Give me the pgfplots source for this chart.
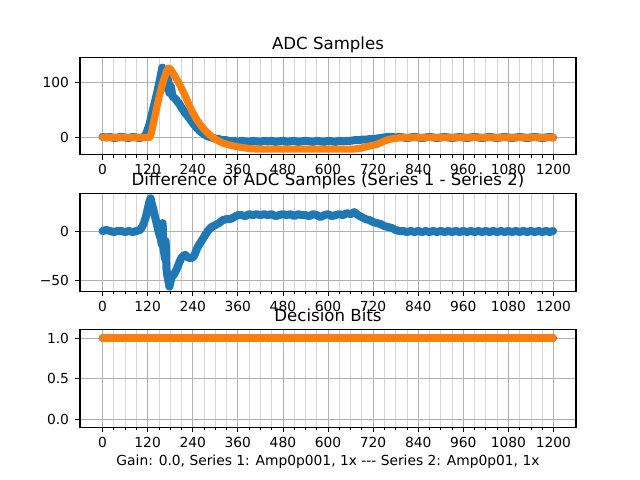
\documentclass[border=0pt]{standalone}
\usepackage{fontspec}
\setmainfont{DejaVu Sans}
\usepackage{pgfplots}
\pgfplotsset{compat=1.18}
\definecolor{c0}{HTML}{1F77B4}
\definecolor{c1}{HTML}{FF7F0E}
\definecolor{gridc}{HTML}{B0B0B0}
\pgfplotsset{
 every axis title shift=0pt,
 mystyle/.style={
  scale only axis, width=372bp, height=72.95bp, anchor=south west,
  xmin=-60, xmax=1260,
  xtick={0,120,240,360,480,600,720,840,960,1080,1200},
  xticklabels={0,120,240,360,480,600,720,840,960,1080,1200},
  minor x tick num=3,
  grid=both,
  major grid style={gridc, line width=0.6bp},
  minor grid style={gridc!55, line width=0.6bp},
  tick align=outside,
  xtick pos=left, ytick pos=left,
  major tick length=3.65bp, minor tick length=2.08bp,
  every tick/.style={black, line width=0.6bp},
  axis line style={line width=0.8bp},
  tick label style={font=\fontsize{10.4}{12}\selectfont},
  xticklabel style={anchor=base, inner sep=0pt, yshift=-11.35bp},
  yticklabel style={anchor=east, inner sep=0pt, xshift=-4.4bp},
  title style={at={(0.5,1)}, anchor=base, yshift=6.25bp, inner sep=0pt, font=\fontsize{12.5}{15}\selectfont},
  clip=false,
 },
 blue/.style={c0, line width=6bp, line join=round, line cap=round, mark=none},
 orange/.style={c1, line width=5.4bp, line join=round, line cap=round, mark=none},
}
\begin{document}
\begin{tikzpicture}
\path[use as bounding box] (0,0) rectangle (480bp,360bp);
% ---------------- top
\begin{axis}[mystyle, at={(60bp,243.8bp)}, ymin=-31.5, ymax=144,
  ytick={0,100}, yticklabels={0,100}, title={ADC Samples}]
\addplot[blue] coordinates {(0,1)(10,0)(20,1)(30,-1)(40,0)(50,1)(60,0)(70,-1)(80,1)(90,0)(100,-1)(110,1)(115,5)(120,14)(125,24)(130,38)(135,52)(140,66)(145,80)(150,96)(155,112)(159,126)(162,118)(164,104)(166,122)(168,96)(170,114)(172,88)(175,104)(178,80)(182,92)(186,74)(190,72)(195,69)(200,64)(205,60)(210,54)(215,49)(220,44)(230,36)(240,26)(250,18)(260,11)(270,6)(280,2)(290,0)(300,-2)(310,-3)(320,-5)(330,-5)(340,-7)(350,-6)(360,-8)(370,-6)(380,-7)(390,-8)(400,-6)(410,-7)(420,-8)(430,-6)(440,-7)(450,-6)(460,-8)(470,-7)(480,-6)(490,-8)(500,-7)(510,-6)(520,-8)(530,-7)(540,-6)(550,-7)(560,-8)(570,-6)(580,-7)(590,-8)(600,-6)(610,-7)(620,-8)(630,-6)(640,-7)(650,-6)(660,-6)(670,-5)(680,-5)(690,-4)(700,-4)(710,-3)(720,-3)(730,-2)(740,-1)(750,0)(760,1)(770,1)(780,0)(790,1)(800,0)(810,-1)(820,0)(830,1)(840,0)(850,-1)(860,0)(870,1)(880,0)(890,-1)(900,0)(910,1)(920,0)(930,-1)(940,0)(950,1)(960,0)(970,-1)(980,0)(990,1)(1000,0)(1010,-1)(1020,0)(1030,1)(1040,0)(1050,-1)(1060,0)(1070,1)(1080,0)(1090,-1)(1100,0)(1110,1)(1120,0)(1130,-1)(1140,0)(1150,1)(1160,0)(1170,-1)(1180,0)(1190,1)(1199,0)};
\addplot[orange] coordinates {(0,0)(60,0)(125,0)(130,8)(140,40)(150,72)(160,98)(170,119)(175,125)(180,124)(190,114)(200,102)(210,89)(220,75)(230,59)(240,45)(250,33)(260,23)(270,15)(280,8)(290,2)(300,-3)(310,-7)(320,-10)(330,-12)(340,-14)(350,-15.5)(360,-17)(370,-18)(380,-19)(390,-20)(400,-20.5)(420,-21)(500,-21)(600,-21)(670,-21)(680,-20)(690,-19)(700,-17)(710,-15.5)(720,-14)(730,-12.5)(740,-9.5)(750,-6.5)(760,-4)(770,-2.5)(780,-1.5)(790,-0.5)(800,0)(900,0)(1000,0)(1100,0)(1199,0)};
\end{axis}
% ---------------- middle
\begin{axis}[mystyle, at={(60bp,141.7bp)}, ymin=-60.5, ymax=37.5,
  ytick={-50,0}, yticklabels={−50,0}, title={Difference of ADC Samples (Series 1 - Series 2)}]
\addplot[blue] coordinates {(0,0)(10,1)(20,0)(30,-1)(40,0)(50,0)(60,-1)(70,0)(80,-1)(90,0)(100,1)(105,4)(110,8)(115,14)(120,22)(125,30)(128,33)(130,29)(135,22)(140,14)(145,6)(150,-2)(155,-8)(158,-14)(160,8)(162,-18)(164,-22)(166,-28)(168,-10)(170,-38)(172,-44)(175,-50)(178,-56)(180,-52)(183,-48)(186,-45)(190,-44)(195,-40)(200,-36)(205,-31)(210,-27)(215,-25)(220,-24)(225,-26)(230,-27)(240,-27)(245,-24)(250,-19)(255,-15)(260,-12)(270,-6)(280,0)(290,4)(300,6)(310,8)(320,11)(330,12)(340,12)(350,14)(360,16)(370,16)(380,15)(390,17)(400,16)(410,17)(420,16)(430,17)(440,16)(450,17)(460,15)(470,16)(480,17)(490,16)(500,17)(510,15)(520,17)(530,16)(540,16)(550,15)(560,17)(570,16)(580,14)(590,16)(600,17)(610,15)(620,16)(630,17)(640,16)(650,18)(660,17)(670,19)(680,16)(690,14)(700,12)(710,11)(720,9)(730,8)(740,7)(750,5)(760,4)(770,3)(780,1)(790,0)(800,0)(810,-1)(820,0)(830,-1)(840,0)(850,-1)(860,0)(870,-1)(880,0)(890,-1)(900,0)(910,-1)(920,0)(930,-1)(940,0)(950,-1)(960,0)(970,-1)(980,0)(990,-1)(1000,0)(1010,-1)(1020,0)(1030,-1)(1040,0)(1050,-1)(1060,0)(1070,-1)(1080,0)(1090,-1)(1100,0)(1110,-1)(1120,0)(1130,-1)(1140,0)(1150,-1)(1160,0)(1170,-1)(1180,0)(1190,-1)(1199,0)};
\end{axis}
% ---------------- bottom
\begin{axis}[mystyle, at={(60bp,39.6bp)}, ymin=-0.1, ymax=1.1,
  ytick={0,0.5,1}, yticklabels={0.0,0.5,1.0}, title={Decision Bits},
  xlabel={Gain: 0.0, Series 1: Amp0p001, 1x -{}-{}- Series 2: Amp0p01, 1x},
  xlabel style={at={(axis description cs:0.5,0)}, anchor=base, inner sep=0pt, yshift=-28.9bp, font=\fontsize{10.4}{12}\selectfont}]
\addplot[blue] coordinates {(0,1)(300,1)(600,1)(900,1)(1199,1)};
\addplot[orange] coordinates {(0,1)(300,1)(600,1)(900,1)(1199,1)};
\end{axis}
\end{tikzpicture}
\end{document}
